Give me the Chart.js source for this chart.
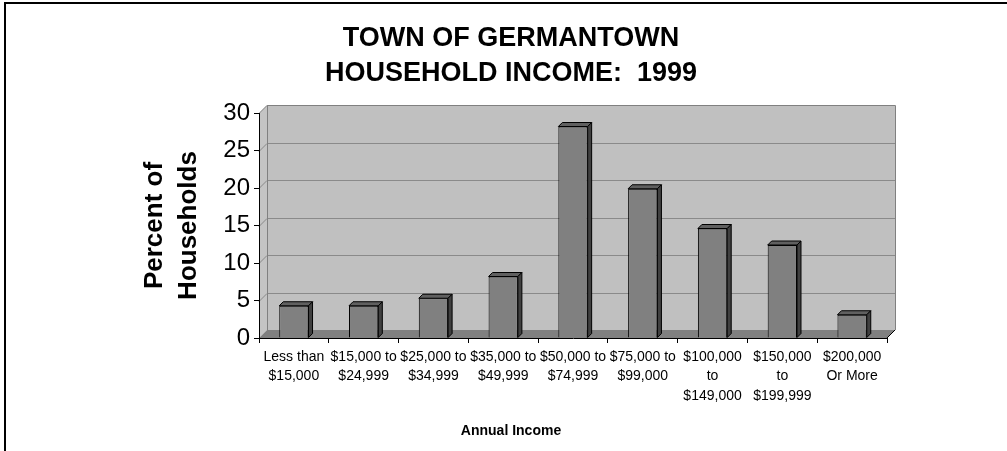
<!DOCTYPE html>
<html>
<head>
<meta charset="utf-8">
<title>Town of Germantown Household Income 1999</title>
<script src="https://cdn.jsdelivr.net/npm/chart.js@4/dist/chart.umd.min.js"></script>
<style>
  html, body { margin: 0; padding: 0; background: #fff; }
  #wrap { position: relative; width: 1007px; height: 451px; }
  canvas { display: block; }
</style>
</head>
<body>
<div id="wrap"><canvas id="chart" width="1007" height="451"></canvas></div>
<script>
// Income brackets (multi-line labels)
const categories = [
  ["Less than", "$15,000"],
  ["$15,000 to", "$24,999"],
  ["$25,000 to", "$34,999"],
  ["$35,000 to", "$49,999"],
  ["$50,000 to", "$74,999"],
  ["$75,000 to", "$99,000"],
  ["$100,000", "to", "$149,000"],
  ["$150,000", "to", "$199,999"],
  ["$200,000", "Or More"]
];
// Percent of households in each bracket
const percentHouseholds = [4.3, 4.3, 5.3, 8.2, 28.2, 19.9, 14.6, 12.4, 3.1];
// Value axis range and step
const yTicks = [0, 5, 10, 15, 20, 25, 30];

const FONT = "'Liberation Sans', Arial, Helvetica, sans-serif";
const DEPTH = 8;      // wall depth offset
const BAR_DEPTH = 4;  // bar depth offset

// Frame, back wall, side wall, floor and wall gridlines
const wallsPlugin = {
  id: 'walls',
  beforeDraw(chart) {
    const ctx = chart.ctx;
    const xs = chart.scales.x, ys = chart.scales.y;
    const L = xs.left, R = xs.right;
    const T = ys.getPixelForValue(yTicks[yTicks.length - 1]);
    const B = ys.getPixelForValue(yTicks[0]);
    const D = DEPTH;
    ctx.save();
    // page frame
    ctx.fillStyle = '#000';
    ctx.fillRect(4, 2, 2, chart.height - 2);
    ctx.fillRect(4, 2, chart.width - 4, 2);

    ctx.lineWidth = 1;
    // back wall
    ctx.fillStyle = '#c0c0c0';
    ctx.fillRect(L + D, T - D, R - L, B - T);
    // side wall
    ctx.beginPath();
    ctx.moveTo(L, B); ctx.lineTo(L, T); ctx.lineTo(L + D, T - D); ctx.lineTo(L + D, B - D);
    ctx.closePath();
    ctx.fillStyle = '#c4c4c4';
    ctx.fill();
    // floor
    ctx.beginPath();
    ctx.moveTo(L, B); ctx.lineTo(L + D, B - D); ctx.lineTo(R + D, B - D); ctx.lineTo(R, B);
    ctx.closePath();
    ctx.fillStyle = '#808080';
    ctx.fill();

    // gridlines across side wall and back wall
    ctx.strokeStyle = '#8a8a8a';
    yTicks.forEach(v => {
      if (v === yTicks[0]) return;
      const py = Math.round(ys.getPixelForValue(v)) + 0.5;
      ctx.beginPath();
      ctx.moveTo(L, py); ctx.lineTo(L + D, py - D); ctx.lineTo(R + D, py - D);
      ctx.stroke();
    });
    // wall outlines
    ctx.strokeStyle = '#808080';
    ctx.beginPath();
    ctx.moveTo(L + D + 0.5, B - D); ctx.lineTo(L + D + 0.5, T - D + 0.5);
    ctx.lineTo(R + D + 0.5, T - D + 0.5); ctx.lineTo(R + D + 0.5, B - D);
    ctx.stroke();
    // floor right edge
    ctx.strokeStyle = '#000';
    ctx.beginPath();
    ctx.moveTo(R, B); ctx.lineTo(R + D, B - D);
    ctx.stroke();
    ctx.restore();
  }
};

// Top and side faces of each column
const barFacesPlugin = {
  id: 'barFaces',
  afterDatasetsDraw(chart) {
    const ctx = chart.ctx;
    const d = BAR_DEPTH;
    ctx.save();
    ctx.lineWidth = 1;
    ctx.strokeStyle = '#000';
    chart.getDatasetMeta(0).data.forEach(bar => {
      const l = bar.x - bar.width / 2, r = bar.x + bar.width / 2;
      const t = bar.y, b = bar.base;
      // top face
      ctx.beginPath();
      ctx.moveTo(l, t); ctx.lineTo(l + d, t - d); ctx.lineTo(r + d, t - d); ctx.lineTo(r, t);
      ctx.closePath();
      ctx.fillStyle = '#606060';
      ctx.fill(); ctx.stroke();
      // side face
      ctx.beginPath();
      ctx.moveTo(r, t); ctx.lineTo(r + d, t - d); ctx.lineTo(r + d, b - d); ctx.lineTo(r, b);
      ctx.closePath();
      ctx.fillStyle = '#404040';
      ctx.fill(); ctx.stroke();
    });
    ctx.restore();
  }
};

const PAD_LEFT = 135, PLOT_LEFT = 259, PLOT_BOTTOM = 338, CANVAS_H = 451;
const AXIS_TITLE_FONT = { family: FONT, size: 14, weight: 'bold', lineHeight: 1.2 };
const AXIS_TITLE_PAD = { top: 0, bottom: 11.6 };
const AXIS_TITLE_H = 14 * 1.2 + AXIS_TITLE_PAD.top + AXIS_TITLE_PAD.bottom;

new Chart(document.getElementById('chart'), {
  type: 'bar',
  data: {
    labels: categories,
    datasets: [{
      data: percentHouseholds,
      backgroundColor: '#808080',
      borderColor: '#000',
      borderWidth: 1,
      categoryPercentage: 1,
      barPercentage: 0.42
    }]
  },
  options: {
    responsive: false,
    animation: false,
    devicePixelRatio: 1,
    layout: { padding: { left: PAD_LEFT, right: 120, top: 0, bottom: 0 } },
    plugins: {
      legend: { display: false },
      tooltip: { enabled: false },
      title: {
        display: true,
        text: ['TOWN OF GERMANTOWN', 'HOUSEHOLD INCOME:  1999'],
        color: '#000',
        font: { family: FONT, size: 27, weight: 'bold', lineHeight: 1.3 },
        padding: { top: 20.5, bottom: 22.3 }
      },
      // category axis title, centred across the whole chart
      subtitle: {
        display: true,
        position: 'bottom',
        text: 'Annual Income',
        color: '#000',
        font: AXIS_TITLE_FONT,
        padding: AXIS_TITLE_PAD
      }
    },
    scales: {
      x: {
        grid: { drawOnChartArea: false, drawTicks: true, tickLength: 5, tickColor: '#000', offset: true },
        border: { display: true, color: '#000', width: 1 },
        ticks: {
          color: '#000', autoSkip: false, maxRotation: 0, minRotation: 0, padding: 4,
          font: { family: FONT, size: 14, lineHeight: 1.4 }
        },
        afterFit(scale) { scale.height = CANVAS_H - PLOT_BOTTOM - AXIS_TITLE_H; }
      },
      y: {
        min: yTicks[0],
        max: yTicks[yTicks.length - 1],
        grid: { drawOnChartArea: false, drawTicks: true, tickLength: 5, tickColor: '#000' },
        border: { display: true, color: '#000', width: 1 },
        ticks: {
          stepSize: yTicks[1] - yTicks[0], color: '#000', padding: 4,
          font: { family: FONT, size: 24, lineHeight: 1.2 }
        },
        title: {
          display: true, text: ['Percent of', 'Households'], color: '#000',
          font: { family: FONT, size: 26, weight: 'bold', lineHeight: 1.3 },
          padding: { top: 3, bottom: 0 }
        },
        afterFit(scale) { scale.width = PLOT_LEFT - PAD_LEFT; }
      }
    }
  },
  plugins: [wallsPlugin, barFacesPlugin]
});
</script>
</body>
</html>
